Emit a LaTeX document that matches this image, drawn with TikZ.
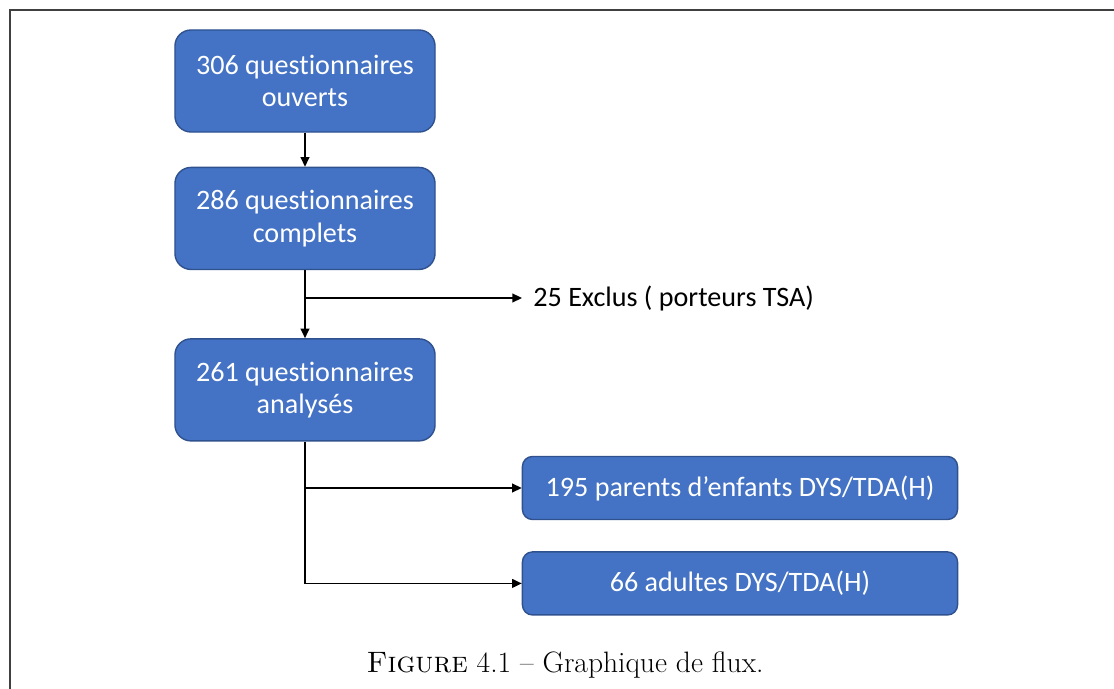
\documentclass[tikz,border=0pt]{standalone}
\usepackage{fontspec}
\newfontfamily\boxfont[Ligatures=NoCommon]{Carlito}
\usepackage{tikz}
\usetikzlibrary{arrows.meta, positioning}
\definecolor{boxblue}{HTML}{4472C4}
\definecolor{boxline}{HTML}{2F528F}

\begin{document}
\begin{tikzpicture}[
   x = 0.025cm, y = -0.025cm,
   line width = 1pt,
   -{Triangle[length=2.4mm, width=2.2mm]},
   stage/.style = {rectangle, rounded corners=4mm, draw=boxline, fill=boxblue, text=white,
      font=\boxfont\fontsize{20}{23}\selectfont, align=center,
      minimum width=6.5cm, minimum height=2.55cm},
   group/.style = {stage, rounded corners=2.5mm, minimum width=10.875cm, minimum height=1.575cm}]
   \useasboundingbox (0,0) rectangle (1114,689);
   \draw[-, black!75] (10,689) -- (10,10) -- (1114,10);

   \node[stage] (open) at (305,81) {306 questionnaires\\ouverts};
   \node[stage, below=0.85cm of open] (complete) {286 questionnaires\\complets};
   \node[stage, below=1.7cm of complete] (analysed) {261 questionnaires\\analysés};
   \node[group] (parents) at (740,488) {195 parents d’enfants DYS/TDA(H)};
   \node[group, below=0.775cm of parents] (adults) {66 adultes DYS/TDA(H)};
   \node[anchor=west, font=\boxfont\fontsize{20}{23}\selectfont] (excluded) at (528,298) {25 Exclus ( porteurs TSA)};
   \node[font=\fontsize{21}{25}\selectfont] (caption) at (565,665) {\textsc{Figure} 4.1 – Graphique de flux.};

   \coordinate (split) at (complete.south |- excluded.west);

   \draw (open) -- (complete);
   \draw (complete) -- (analysed);
   \draw (split) -- ([xshift=-1.5mm]excluded.west);
   \draw (analysed.south) |- (parents);
   \draw (analysed.south) |- (adults);
\end{tikzpicture}
\end{document}
